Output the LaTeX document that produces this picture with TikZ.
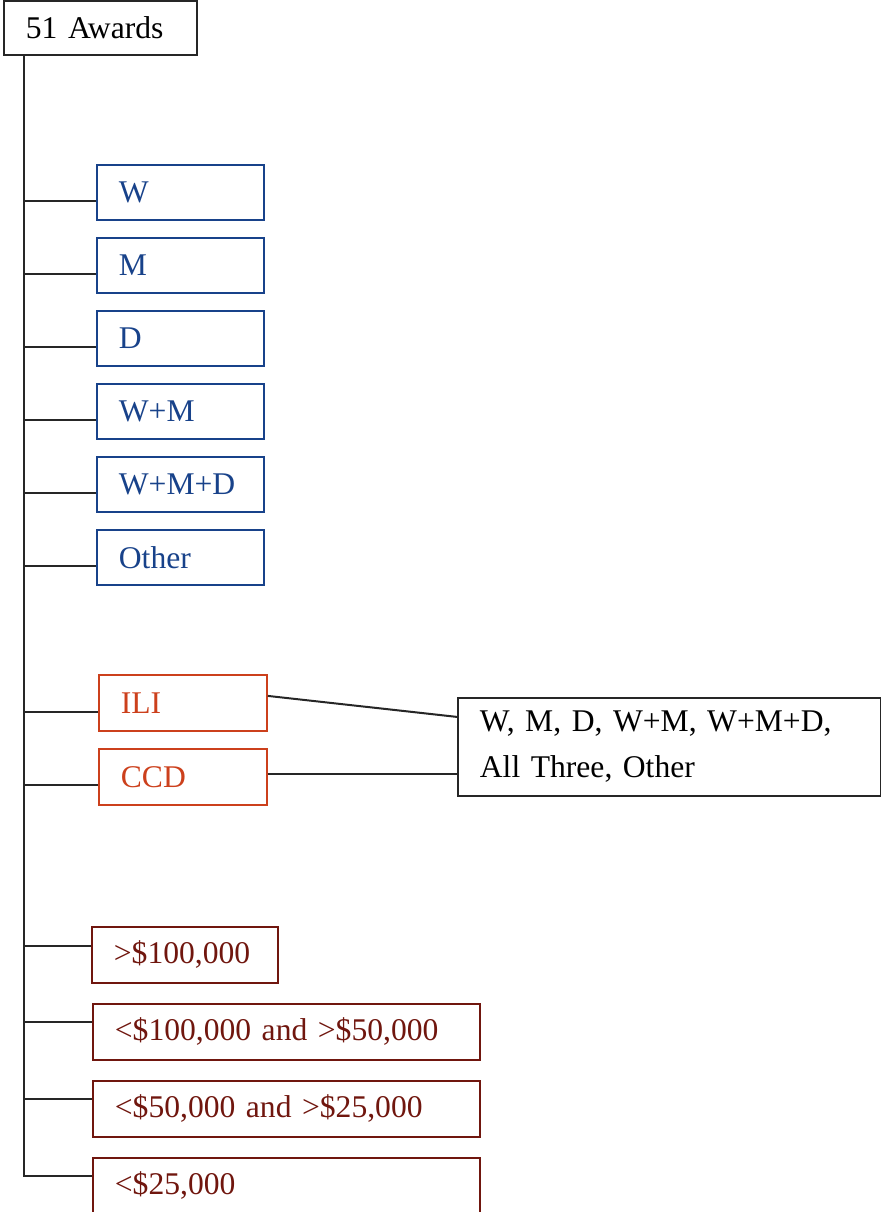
\documentclass[tikz,border=0pt]{standalone}
\usepackage{fontspec}
\setmainfont[WordSpace=0.85]{Liberation Serif}
\usetikzlibrary{positioning}
\colorlet{colorLine}{black!85}
\definecolor{colorKind}{RGB}{24,66,138}
\definecolor{colorSurv}{RGB}{204,64,28}
\definecolor{colorAmt}{RGB}{112,22,14}
\tikzset{
   every node/.style={font=\fontsize{15.8}{23}\selectfont},
   box/.style={draw,rectangle,anchor=north west,line width=0.9pt,
     inner xsep=11pt,inner ysep=0pt,align=left},
   topbox/.style={box,draw=colorLine,text width=74.5pt,minimum height=27pt},
   kind/.style={box,draw=colorKind,text=colorKind,text width=61.5pt,minimum height=27.5pt},
   surv/.style={box,draw=colorSurv,text=colorSurv,text width=62pt,minimum height=28pt},
   amt/.style={box,draw=colorAmt,text=colorAmt,text width=171.5pt,minimum height=28pt},
   listbox/.style={box,draw=colorLine,text width=189.5pt,minimum height=49pt},
   branch/.style={-,color=colorLine,line width=1pt,line join=miter},
}

\begin{document}
\begin{tikzpicture}[x=0.5pt,y=-0.5pt]

  \useasboundingbox (0,0) rectangle (881,1212);

  \node[topbox] (awards) at (3,0) {51 Awards};
  \coordinate (root) at (24,54);

  \node[kind] (W)     at (96,164) {W};
  \node[kind] (M)     at (96,237) {M};
  \node[kind] (D)     at (96,310) {D};
  \node[kind] (WM)    at (96,383) {W+M};
  \node[kind] (WMD)   at (96,456) {W+M+D};
  \node[kind] (other) at (96,529) {Other};

  \node[surv] (ili) at (98,674) {ILI};
  \node[surv] (ccd) at (98,748) {CCD};

  \node[listbox] (list) at (457,697) {W, M, D, W+M, W+M+D,\\All Three, Other};

  \node[amt,text width=71pt] (g1) at (91,926)  {>\$100,000};
  \node[amt] (g2) at (92,1003) {<\$100,000 and >\$50,000};
  \node[amt] (g3) at (92,1080) {<\$50,000 and >\$25,000};
  \node[amt] (g4) at (92,1157) {<\$25,000};

  \draw[branch] (root) |- ([yshift=-4.5pt]W.west);
  \draw[branch] (root) |- ([yshift=-4.5pt]M.west);
  \draw[branch] (root) |- ([yshift=-4.5pt]D.west);
  \draw[branch] (root) |- ([yshift=-4.5pt]WM.west);
  \draw[branch] (root) |- ([yshift=-4.5pt]WMD.west);
  \draw[branch] (root) |- ([yshift=-4.5pt]other.west);
  \draw[branch] (root) |- ([yshift=-4.5pt]ili.west);
  \draw[branch] (root) |- ([yshift=-4pt]ccd.west);
  \draw[branch] (root) |- ([yshift=4.5pt]g1.west);
  \draw[branch] (root) |- ([yshift=5pt]g2.west);
  \draw[branch] (root) |- ([yshift=5pt]g3.west);
  \draw[branch] (root) |- ([yshift=5pt]g4.west);

  \draw[branch] ([yshift=3.5pt]ili.east) -- ([yshift=15pt]list.west);
  \draw[branch] ([yshift=1.5pt]ccd.east) -- ([yshift=-13.5pt]list.west);

\end{tikzpicture}
\end{document}
